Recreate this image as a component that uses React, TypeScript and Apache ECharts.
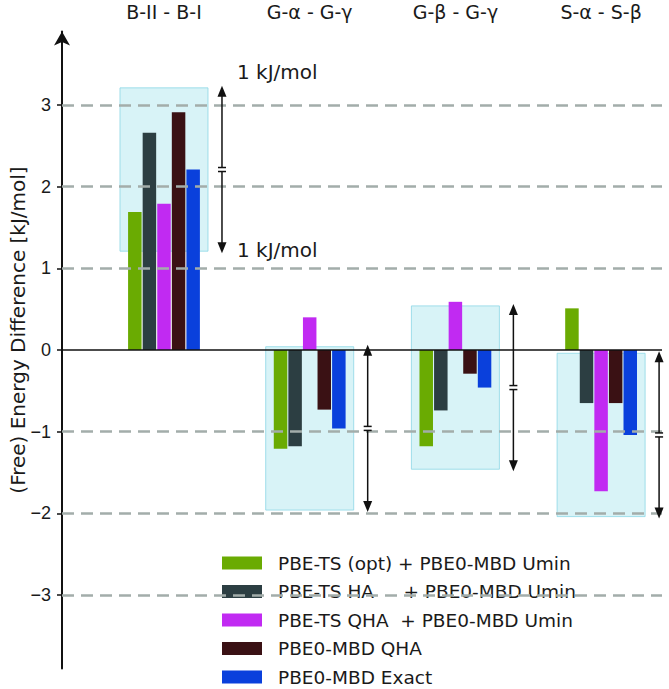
import React, { useEffect, useRef } from "react";
import * as echarts from "echarts";

const categories = ["B-II - B-I", "G-α - G-γ", "G-β - G-γ", "S-α - S-β"];
const seriesNames = [
  "PBE-TS (opt) + PBE0-MBD Umin",
  "PBE-TS HA     + PBE0-MBD Umin",
  "PBE-TS QHA  + PBE0-MBD Umin",
  "PBE0-MBD QHA",
  "PBE0-MBD Exact",
];
const optUmin = [1.69, -1.21, -1.18, 0.51];
const haUmin = [2.66, -1.18, -0.74, -0.65];
const qhaUmin = [1.79, 0.4, 0.59, -1.73];
const mbdQha = [2.91, -0.73, -0.29, -0.65];
const mbdExact = [2.21, -0.96, -0.46, -1.04];
const seriesValues = [optUmin, haUmin, qhaUmin, mbdQha, mbdExact];
const seriesColors = ["#6aab02", "#2c3e42", "#c12af2", "#3a1114", "#0a40dc"];
const yTicks = [-3, -2, -1, 0, 1, 2, 3];
const gridLineValues = [-3, -2, -1, 1, 2, 3];
const errorRange = 1; // kJ/mol
const rangeLabel = "1 kJ/mol";

const FONT = "DejaVu Sans, Verdana, sans-serif";
const TICK_FONT = "Liberation Sans, Arial, sans-serif";

export default function App() {
  const ref = useRef<HTMLDivElement>(null);
  useEffect(() => {
    document.body.style.margin = "0";
    if (!ref.current) return;
    const chart = echarts.init(ref.current, undefined, { renderer: "svg" });

    const barSeries = seriesValues.map((vals, s) => ({
      type: "bar",
      name: seriesNames[s],
      data: vals.map((v, i) => [i, v]),
      barWidth: 13.5,
      barGap: "8%",
      z: 3,
      itemStyle: { color: seriesColors[s] },
    }));

    const option: any = {
      animation: false,
      grid: { left: 62, right: 7, top: 31.5, bottom: 20.5 },
      xAxis: {
        type: "value",
        position: "top",
        min: -0.7,
        max: 3.418,
        axisLine: { show: false, onZero: false },
        axisTick: { show: false },
        splitLine: { show: false },
        axisLabel: {
          customValues: [0, 1, 2, 3],
          formatter: (v: number) => categories[Math.round(v)] ?? "",
          fontSize: 19,
          fontFamily: FONT,
          color: "#1a1a1a",
          margin: 10,
        },
      },
      yAxis: {
        type: "value",
        min: -3.9,
        max: 3.9,
        axisLine: {
          show: true,
          onZero: false,
          symbol: ["none", "arrow"],
          symbolSize: [12, 14],
          lineStyle: { color: "#111", width: 2 },
        },
        axisTick: {
          show: true,
          customValues: yTicks,
          length: 5,
          lineStyle: { color: "#111", width: 1.5 },
        },
        axisLabel: {
          customValues: yTicks,
          formatter: (v: number) => (v < 0 ? "\u2212" + Math.abs(v) : String(v)),
          fontSize: 18,
          fontFamily: TICK_FONT,
          color: "#1a1a1a",
          margin: 11,
        },
        splitLine: { show: false },
      },
      legend: {
        data: seriesNames,
        orient: "vertical",
        left: 222,
        top: 553,
        padding: 0,
        itemWidth: 40,
        itemHeight: 13,
        itemGap: 8.5,
        icon: "rect",
        selectedMode: false,
        textStyle: {
          fontSize: 18.5,
          fontFamily: FONT,
          color: "#1a1a1a",
          lineHeight: 20,
          padding: [0, 0, 0, 11],
        },
      },
      graphic: [
        {
          type: "text",
          x: 18,
          y: 330,
          rotation: Math.PI / 2,
          style: {
            text: "(Free) Energy Difference [kJ/mol]",
            font: "20px DejaVu Sans",
            fill: "#1a1a1a",
            textAlign: "center",
            textVerticalAlign: "middle",
          },
        },
      ],
      series: [
        {
          type: "custom",
          name: "range-box",
          z: 1,
          silent: true,
          data: mbdExact.map((v, i) => [i, v]),
          encode: { x: 0, y: 1 },
          renderItem: (params: any, api: any) => {
            const i = api.value(0);
            const v = api.value(1);
            const unit = api.size([1, 0])[0];
            const hw = unit * 0.302;
            const p1 = api.coord([i, v + errorRange]);
            const p2 = api.coord([i, v - errorRange]);
            return {
              type: "rect",
              shape: { x: p1[0] - hw, y: p1[1], width: 2 * hw, height: p2[1] - p1[1] },
              style: { fill: "rgba(168,228,238,0.45)", stroke: "rgba(140,215,230,0.8)", lineWidth: 1 },
            };
          },
          markLine: {
            silent: true,
            symbol: "none",
            label: { show: false },
            lineStyle: { color: "#a3adaa", width: 2.5, type: [12, 7] },
            data: gridLineValues.map((v) => ({ yAxis: v })),
          },
        },
        ...barSeries,
        {
          type: "custom",
          name: "range-arrow",
          z: 5,
          silent: true,
          data: mbdExact.map((v, i) => [i, v]),
          encode: { x: 0, y: 1 },
          renderItem: (params: any, api: any) => {
            const i = api.value(0);
            const v = api.value(1);
            const unit = api.size([1, 0])[0];
            const c = api.coord([i, v]);
            const ax = c[0] + unit * 0.398;
            const topY = api.coord([i, v + errorRange])[1] - 2;
            const botY = api.coord([i, v - errorRange])[1] + 2;
            const midY = c[1];
            const lineStyle = { stroke: "#111", lineWidth: 1.5 };
            const children: any[] = [
              { type: "line", shape: { x1: ax, y1: topY + 8, x2: ax, y2: midY - 2 }, style: lineStyle },
              { type: "line", shape: { x1: ax, y1: midY + 2, x2: ax, y2: botY - 8 }, style: lineStyle },
              { type: "line", shape: { x1: ax - 4, y1: midY - 2, x2: ax + 4, y2: midY - 2 }, style: lineStyle },
              { type: "line", shape: { x1: ax - 4, y1: midY + 2, x2: ax + 4, y2: midY + 2 }, style: lineStyle },
              {
                type: "polygon",
                shape: { points: [[ax, topY], [ax - 4.5, topY + 11], [ax + 4.5, topY + 11]] },
                style: { fill: "#111" },
              },
              {
                type: "polygon",
                shape: { points: [[ax, botY], [ax - 4.5, botY - 11], [ax + 4.5, botY - 11]] },
                style: { fill: "#111" },
              },
            ];
            if (params.dataIndex === 0) {
              children.push(
                {
                  type: "text",
                  x: ax + 15,
                  y: topY - 14,
                  style: { text: rangeLabel, font: "20px DejaVu Sans", fill: "#1a1a1a", textVerticalAlign: "middle" },
                },
                {
                  type: "text",
                  x: ax + 15,
                  y: botY - 3,
                  style: { text: rangeLabel, font: "20px DejaVu Sans", fill: "#1a1a1a", textVerticalAlign: "middle" },
                }
              );
            }
            return { type: "group", children };
          },
          markLine: {
            silent: true,
            symbol: "none",
            label: { show: false },
            lineStyle: { color: "#111", width: 1.5, type: "solid" },
            data: [{ yAxis: 0 }],
          },
        },
      ],
    };
    chart.setOption(option);
    return () => chart.dispose();
  }, []);
  return <div ref={ref} style={{ width: 669, height: 689 }} />;
}
